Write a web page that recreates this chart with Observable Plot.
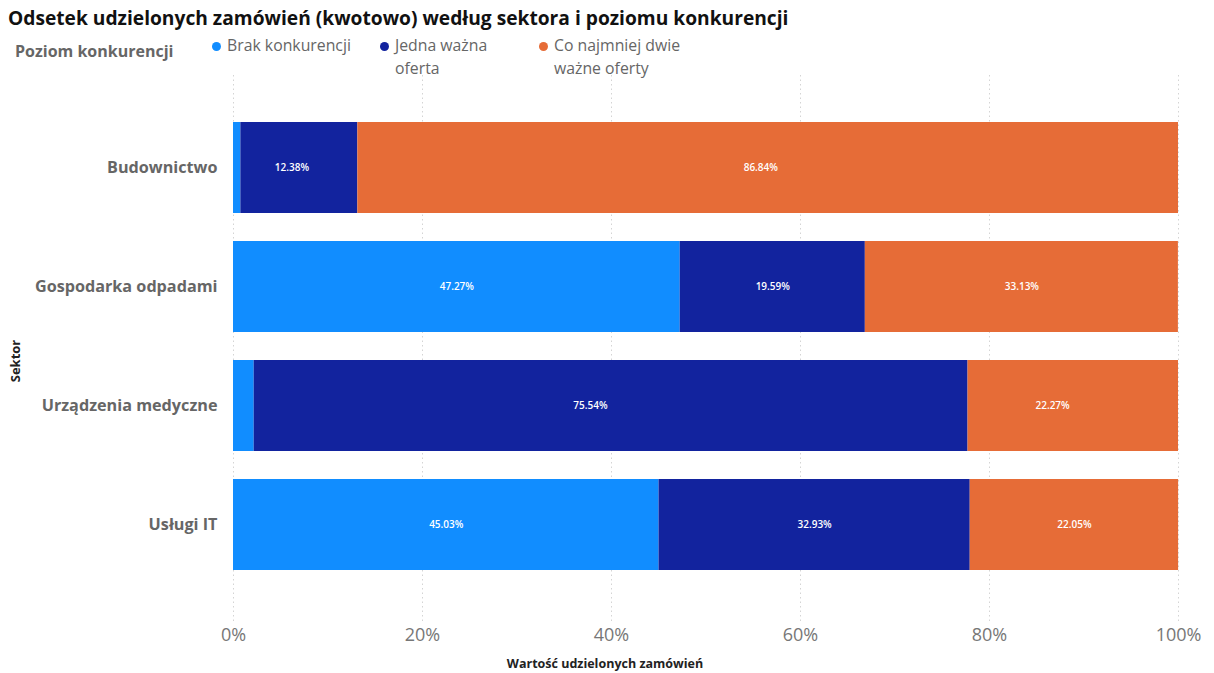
<!DOCTYPE html>
<html>
<head>
<meta charset="utf-8">
<script src="https://cdn.jsdelivr.net/npm/d3@7"></script>
<script src="https://cdn.jsdelivr.net/npm/@observablehq/plot@0.6"></script>
<style>
  html, body { margin: 0; padding: 0; background: #fff; }
  #wrap { position: relative; width: 1214px; height: 673px; font-family: 'Open Sans', sans-serif; overflow: hidden; }
  #title { position: absolute; left: 8px; top: 4px; font-size: 19.2px; font-weight: 700; color: #111; white-space: nowrap; }
  #legend-title { position: absolute; left: 15px; top: 40px; font-size: 16px; font-weight: 700; color: #666; }
  .leg { position: absolute; top: 34px; font-size: 15.8px; color: #666; line-height: 23px; white-space: nowrap; }
  .leg .dot { position: absolute; left: -15px; top: 8px; width: 9px; height: 9px; border-radius: 50%; }
  #chart { position: absolute; left: 0; top: 75px; }
  #xtitle { position: absolute; top: 655px; left: 605px; transform: translateX(-50%); font-size: 12.5px; font-weight: 700; color: #222; white-space: nowrap; }
  #ytitle { position: absolute; left: 15px; top: 361px; transform: translate(-50%, -50%) rotate(-90deg); font-size: 13px; font-weight: 700; color: #222; }
</style>
</head>
<body>
<div id="wrap">
  <div id="title">Odsetek udzielonych zamówień (kwotowo) według sektora i poziomu konkurencji</div>
  <div id="legend-title">Poziom konkurencji</div>
  <div id="legend"></div>
  <div id="chart"></div>
  <div id="xtitle">Wartość udzielonych zamówień</div>
  <div id="ytitle">Sektor</div>
</div>
<script>
const sectors = ["Budownictwo", "Gospodarka odpadami", "Urządzenia medyczne", "Usługi IT"];
const levels = ["Brak konkurencji", "Jedna ważna oferta", "Co najmniej dwie ważne oferty"];
const legendLines = [["Brak konkurencji"], ["Jedna ważna", "oferta"], ["Co najmniej dwie", "ważne oferty"]];
const brak  = [0.78, 47.27, 2.19, 45.03];
const jedna = [12.38, 19.59, 75.54, 32.93];
const dwie  = [86.84, 33.13, 22.27, 22.05];
const xTicks = [0, 20, 40, 60, 80, 100];
const colors = ["#118DFF", "#12239E", "#E66C37"];

const series = [brak, jedna, dwie];
const data = [];
sectors.forEach((s, i) => {
  levels.forEach((l, j) => data.push({sector: s, level: l, value: series[j][i]}));
});

// legend
const legend = document.getElementById("legend");
const legX = [227, 395, 554];
legendLines.forEach((lines, j) => {
  const d = document.createElement("div");
  d.className = "leg";
  d.style.left = legX[j] + "px";
  d.innerHTML = `<span class="dot" style="background:${colors[j]}"></span>` + lines.join("<br>");
  legend.appendChild(d);
});

const stackOpts = {x: "value", y: "sector", z: "level", order: null};

const chart = Plot.plot({
  width: 1214,
  height: 598,
  marginLeft: 233,
  marginRight: 36,
  marginTop: 0,
  marginBottom: 51,
  style: {fontFamily: "'Open Sans', sans-serif", background: "transparent"},
  x: {domain: [0, 100], ticks: xTicks},
  y: {domain: sectors, range: [19, 524], padding: 0.235},
  color: {domain: levels, range: colors},
  marks: [
    Plot.gridX(xTicks, {stroke: "#d4d4d4", strokeOpacity: 1, strokeDasharray: "1.5,3"}),
    Plot.barX(data, Plot.stackX({...stackOpts, fill: "level"})),
    Plot.text(data, Plot.stackX({
      ...stackOpts,
      filter: d => d.value >= 5,
      text: d => d.value.toFixed(2) + "%",
      fill: "white",
      fontSize: 10,
      fontWeight: 600
    })),
    Plot.axisX({ticks: xTicks, tickFormat: d => d + "%", tickSize: 0, tickPadding: 6, fontSize: 18, fill: "#777", label: null}),
    Plot.axisY({tickSize: 0, tickPadding: 16, fontSize: 16.2, fontWeight: 700, fill: "#666", label: null})
  ]
});
document.getElementById("chart").appendChild(chart);
</script>
</body>
</html>
